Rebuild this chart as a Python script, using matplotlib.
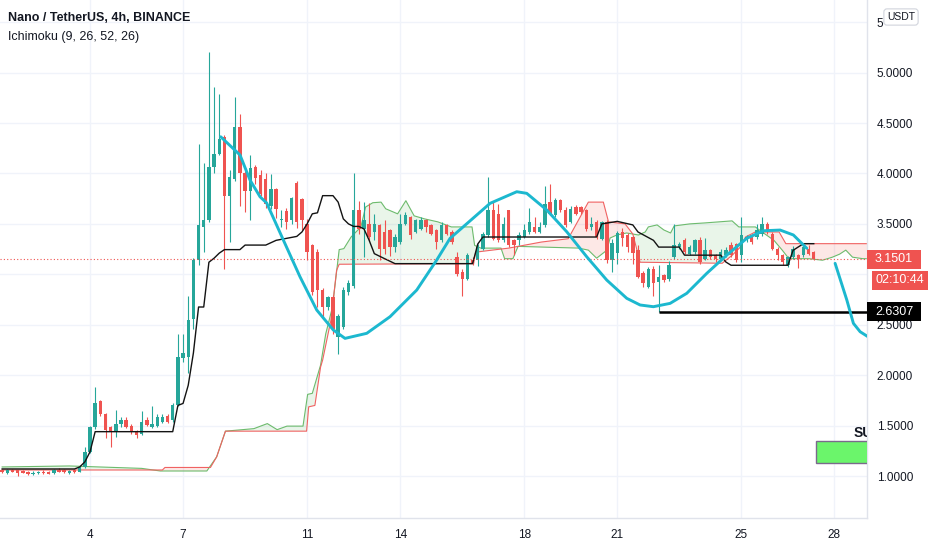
import numpy as np
import matplotlib
matplotlib.use('Agg')
import matplotlib.pyplot as plt
import matplotlib.transforms as mtransforms
from matplotlib.patches import Rectangle

plt.rcParams['font.family'] = ['Liberation Sans', 'DejaVu Sans']

TITLE = "Nano / TetherUS, 4h, BINANCE"
SUBTITLE = "Ichimoku (9, 26, 52, 26)"

# 4h bars, (open, high, low, close); index 0 = first bar on screen
ohlc = [
    (1.06, 1.065, 1.03, 1.04), (1.03, 1.07, 1.02, 1.06), (1.06, 1.065, 1.04, 1.045),
    (1.055, 1.06, 1.00, 1.03), (1.05, 1.06, 1.03, 1.035), (1.04, 1.05, 1.015, 1.02),
    (1.02, 1.05, 1.01, 1.035), (1.03, 1.05, 1.02, 1.04), (1.045, 1.055, 1.02, 1.03),
    (1.04, 1.05, 1.02, 1.025), (1.03, 1.07, 1.02, 1.06), (1.06, 1.075, 1.04, 1.045),
    (1.055, 1.065, 1.03, 1.04), (1.03, 1.06, 1.02, 1.05), (1.055, 1.065, 1.035, 1.045),
    (1.045, 1.10, 1.04, 1.09), (1.09, 1.29, 1.08, 1.24), (1.24, 1.50, 1.23, 1.49),
    (1.49, 1.88, 1.47, 1.72), (1.74, 1.75, 1.60, 1.62), (1.62, 1.63, 1.38, 1.46),
    (1.49, 1.50, 1.29, 1.44), (1.44, 1.65, 1.39, 1.52), (1.52, 1.59, 1.49, 1.555),
    (1.555, 1.59, 1.48, 1.49), (1.50, 1.52, 1.42, 1.44), (1.44, 1.46, 1.38, 1.41),
    (1.42, 1.64, 1.41, 1.54), (1.555, 1.59, 1.50, 1.505), (1.49, 1.69, 1.48, 1.52),
    (1.50, 1.62, 1.49, 1.587), (1.54, 1.62, 1.53, 1.587), (1.60, 1.62, 1.53, 1.54),
    (1.555, 1.72, 1.54, 1.703), (1.703, 2.41, 1.69, 2.18), (2.17, 2.41, 2.13, 2.22),
    (2.18, 2.79, 2.02, 2.545), (2.56, 3.16, 2.46, 3.14), (3.14, 4.29, 3.09, 3.485),
    (3.47, 4.10, 3.22, 3.535), (3.535, 5.20, 3.52, 4.06), (4.06, 4.855, 4.00, 4.195),
    (4.195, 4.79, 4.18, 4.34), (4.36, 4.38, 3.056, 3.78), (3.78, 4.03, 3.32, 3.963),
    (3.95, 4.755, 3.93, 4.46), (4.46, 4.59, 3.68, 4.00), (4.00, 4.02, 3.617, 3.83),
    (3.83, 4.18, 3.535, 4.05), (4.06, 4.08, 3.90, 3.96), (3.98, 4.03, 3.78, 3.80),
    (3.95, 4.00, 3.66, 3.70), (3.68, 3.99, 3.65, 3.85), (3.85, 3.86, 3.56, 3.65),
    (3.54, 3.64, 3.47, 3.55), (3.63, 3.66, 3.45, 3.52), (3.535, 3.77, 3.50, 3.76),
    (3.91, 3.93, 3.46, 3.52), (3.75, 3.76, 3.44, 3.535), (3.50, 3.55, 3.145, 3.22),
    (3.29, 3.30, 2.80, 2.825), (3.22, 3.25, 2.676, 2.84), (2.84, 2.86, 2.58, 2.676),
    (2.676, 2.79, 2.65, 2.775), (2.775, 2.80, 2.41, 2.46), (2.38, 2.61, 2.215, 2.59),
    (2.48, 2.87, 2.46, 2.84), (2.825, 2.94, 2.80, 2.91), (2.88, 4.00, 2.86, 3.64),
    (3.64, 3.73, 3.40, 3.45), (3.45, 3.72, 3.17, 3.535), (3.50, 3.71, 3.33, 3.37),
    (3.42, 3.60, 3.34, 3.50), (3.485, 3.50, 3.14, 3.255), (3.42, 3.535, 3.20, 3.255),
    (3.435, 3.45, 3.18, 3.27), (3.27, 3.40, 3.22, 3.37), (3.32, 3.60, 3.30, 3.50),
    (3.50, 3.62, 3.49, 3.585), (3.567, 3.58, 3.35, 3.386), (3.42, 3.55, 3.41, 3.535),
    (3.45, 3.57, 3.44, 3.535), (3.535, 3.55, 3.42, 3.47), (3.485, 3.50, 3.39, 3.40),
    (3.435, 3.45, 3.25, 3.32), (3.337, 3.52, 3.32, 3.485), (3.485, 3.50, 3.39, 3.40),
    (3.42, 3.44, 3.30, 3.32), (3.17, 3.22, 2.98, 3.007), (3.02, 3.05, 2.79, 2.957),
    (2.957, 3.21, 2.94, 3.188), (3.14, 3.17, 3.09, 3.106), (3.14, 3.30, 3.08, 3.27),
    (3.255, 3.42, 3.24, 3.396), (3.386, 3.963, 3.37, 3.634), (3.634, 3.73, 3.34, 3.353),
    (3.60, 3.70, 3.32, 3.337), (3.337, 3.57, 3.32, 3.50), (3.634, 3.634, 3.27, 3.287),
    (3.337, 3.35, 3.19, 3.287), (3.337, 3.42, 3.29, 3.386), (3.37, 3.50, 3.36, 3.435),
    (3.42, 3.66, 3.40, 3.52), (3.47, 3.57, 3.41, 3.42), (3.42, 3.52, 3.41, 3.47),
    (3.485, 3.88, 3.47, 3.70), (3.716, 3.898, 3.59, 3.60), (3.584, 3.76, 3.57, 3.733),
    (3.733, 3.75, 3.62, 3.634), (3.634, 3.67, 3.47, 3.485), (3.52, 3.68, 3.51, 3.65),
    (3.667, 3.69, 3.59, 3.60), (3.667, 3.68, 3.60, 3.617), (3.634, 3.65, 3.43, 3.45),
    (3.47, 3.57, 3.44, 3.50), (3.52, 3.54, 3.35, 3.37), (3.353, 3.53, 3.34, 3.52),
    (3.52, 3.54, 3.11, 3.14), (3.14, 3.35, 3.02, 3.31), (3.21, 3.43, 3.10, 3.41),
    (3.42, 3.46, 3.28, 3.357), (3.39, 3.41, 3.22, 3.27), (3.37, 3.38, 3.10, 3.21),
    (3.24, 3.29, 2.96, 2.976), (3.01, 3.03, 2.87, 2.91), (2.87, 3.07, 2.86, 3.056),
    (3.056, 3.08, 2.79, 2.91), (2.924, 3.09, 2.6307, 2.973), (2.99, 3.00, 2.92, 2.94),
    (2.957, 3.13, 2.93, 3.089), (3.17, 3.50, 3.15, 3.287), (3.27, 3.32, 3.25, 3.304),
    (3.337, 3.36, 3.20, 3.22), (3.205, 3.29, 3.19, 3.27), (3.22, 3.35, 3.20, 3.337),
    (3.337, 3.37, 3.10, 3.122), (3.155, 3.357, 3.14, 3.238), (3.238, 3.25, 3.15, 3.17),
    (3.188, 3.20, 3.125, 3.155), (3.155, 3.25, 3.14, 3.22), (3.188, 3.27, 3.17, 3.238),
    (3.287, 3.32, 3.17, 3.188), (3.304, 3.31, 3.12, 3.14), (3.188, 3.567, 3.125, 3.386),
    (3.337, 3.39, 3.32, 3.37), (3.386, 3.40, 3.30, 3.32), (3.37, 3.50, 3.35, 3.435),
    (3.40, 3.567, 3.38, 3.50), (3.50, 3.52, 3.40, 3.42), (3.40, 3.42, 3.24, 3.255),
    (3.255, 3.27, 3.14, 3.188), (3.188, 3.20, 3.09, 3.122), (3.089, 3.18, 3.075, 3.17),
    (3.17, 3.28, 3.15, 3.255), (3.188, 3.20, 3.06, 3.155), (3.188, 3.29, 3.17, 3.27),
    (3.255, 3.29, 3.19, 3.205), (3.22, 3.23, 3.14, 3.1501),
]

DAY_TICKS = [17, 35, 59, 77, 101, 119, 143, 161]
DAY_LABELS = ['4', '7', '11', '14', '18', '21', '25', '28']
PRICE_TICKS = [1.0, 1.5, 2.0, 2.5, 3.0, 3.5, 4.0, 4.5, 5.0, 5.5]
HIDDEN_TICKS = [3.0]   # sits under the countdown label
CUT_TICKS = {5.5: '5'}  # only the first digit shows beside the USDT badge

# black ichimoku line (bar index, price)
base_i = [0, 14, 15, 16, 17, 18, 33, 34, 35, 36, 37, 38, 39, 40, 41, 42, 43, 46, 47, 51,
          53, 57, 58, 59, 60, 61, 62, 64, 65, 66, 67, 68, 69, 70, 71, 72, 74, 76, 91,
          91.5, 92, 93, 115, 116, 119, 122, 123, 126, 127, 131, 132, 139, 140, 141, 152,
          153, 155, 157]
base_p = [1.07, 1.07, 1.09, 1.14, 1.24, 1.44, 1.44, 1.70, 1.72, 1.90, 2.22, 2.676, 2.676,
          3.12, 3.16, 3.21, 3.245, 3.245, 3.29, 3.29, 3.337, 3.376, 3.42, 3.50, 3.60, 3.61,
          3.78, 3.78, 3.716, 3.55, 3.50, 3.475, 3.475, 3.45, 3.337, 3.205, 3.155, 3.106,
          3.106, 3.20, 3.30, 3.37, 3.37, 3.50, 3.525, 3.49, 3.42, 3.337, 3.27, 3.27, 3.19,
          3.19, 3.122, 3.09, 3.09, 3.238, 3.304, 3.304]

# leading span A (green) and span B (red)
spanA_i = [0, 13, 27, 30.6, 39.6, 41.5, 43.2, 48.7, 51.3, 53.2, 55.1, 58.2, 59.1, 60,
           61.6, 62.6, 63.9, 65.2, 66.1, 67.5, 69.4, 70.3, 71.7, 73.3, 74.2, 76.5, 78.1,
           79.7, 81.7, 84.3, 86.9, 90.9, 91.4, 92.6, 96.5, 97.2, 98.8, 99.8, 111.5, 113.4,
           115, 117, 117.6, 118.9, 120.8, 123.1, 124.4, 125, 126.7, 128, 129.3, 130, 133,
           136, 141.2, 142.5, 145.7, 147, 149.3, 150.9, 152.2, 156.1, 158.7, 160.6, 162,
           163.2, 164.5, 166.5, 168]
spanA_p = [1.09, 1.10, 1.076, 1.05, 1.05, 1.19, 1.445, 1.47, 1.52, 1.46, 1.495, 1.495,
           1.81, 1.82, 2.10, 2.41, 2.676, 3.245, 3.255, 3.37, 3.47, 3.667, 3.71, 3.716,
           3.65, 3.60, 3.73, 3.58, 3.55, 3.52, 3.47, 3.47, 3.287, 3.26, 3.26, 3.155, 3.155,
           3.277, 3.26, 3.24, 3.16, 3.24, 3.36, 3.39, 3.41, 3.39, 3.42, 3.47, 3.49, 3.44,
           3.41, 3.48, 3.50, 3.51, 3.53, 3.47, 3.47, 3.42, 3.337, 3.24, 3.155, 3.155, 3.14,
           3.17, 3.20, 3.24, 3.17, 3.155, 3.155]
spanB_i = [0, 31, 31.5, 40.3, 41.5, 43.2, 58.9, 59.3, 60.5, 61.6, 62, 63.6, 64.7, 65.2,
           91.2, 91.6, 98, 104.3, 109.5, 113.4, 116.3, 117.3, 120.5, 122, 123.4, 139.3,
           141.2, 142.8, 143.8, 145.7, 150.3, 151.6, 168]
spanB_p = [1.06, 1.06, 1.085, 1.085, 1.19, 1.445, 1.445, 1.686, 1.70, 2.08, 2.15, 2.545,
           3.04, 3.10, 3.106, 3.22, 3.26, 3.32, 3.353, 3.716, 3.716, 3.52, 3.50, 3.40,
           3.12, 3.11, 3.188, 3.27, 3.37, 3.42, 3.42, 3.304, 3.304]

# hand drawn cyan curve, two pieces
arc1_i = [42.28, 46.02, 47.95, 49.89, 51.18, 54.40, 57.62, 60.86, 64.07, 66.33, 70.53,
          75.04, 80.20, 84.07, 86.65, 89.22, 94.39, 99.55, 101.48, 105.35, 109.22, 113.09,
          116.96, 120.83, 123.41, 125.98, 129.21, 132.44, 136.31, 140.18, 144.05, 147.26,
          150.49, 153.06, 155.65]
arc1_p = [4.364, 4.183, 3.935, 3.769, 3.707, 3.340, 2.976, 2.646, 2.448, 2.365, 2.415,
          2.580, 2.844, 3.142, 3.357, 3.472, 3.704, 3.819, 3.803, 3.638, 3.422, 3.174,
          2.943, 2.762, 2.696, 2.679, 2.712, 2.812, 3.010, 3.191, 3.357, 3.432, 3.439,
          3.390, 3.258]
arc2_i = [161.13, 163.4, 164.67, 165.97, 167.5]
arc2_p = [3.109, 2.745, 2.514, 2.431, 2.381]

LAST_PRICE = 3.1501
COUNTDOWN = '02:10:44'
SUPPORT_PRICE = 2.6307
SUPPORT_FROM = 127
ZONE_LEFT = 157.4
ZONE_LOW, ZONE_HIGH = 1.132, 1.35
ZONE_TEXT = 'SU'  # rest of the word is cut off by the price scale

GREEN = '#26a69a'
RED = '#ef5350'
GRID = '#f0f3fa'

fig = plt.figure(figsize=(9.32, 5.5), dpi=100)
ax = fig.add_axes([0, 31.7 / 550, 867 / 932, 518.3 / 550])
ax.set_xlim(-0.41, 167.3)
ax.set_ylim(0.581, 5.72)

# grid
for d in DAY_TICKS:
    ax.axvline(d, color=GRID, lw=1, zorder=0)
for p in PRICE_TICKS:
    ax.axhline(p, color=GRID, lw=1, zorder=0)

# cloud
grid = np.linspace(0, 168, 2000)
a = np.interp(grid, spanA_i, spanA_p)
b = np.interp(grid, spanB_i, spanB_p)
ax.fill_between(grid, a, b, where=a >= b, interpolate=True, color='#4caf50',
                alpha=0.12, lw=0, zorder=1)
ax.fill_between(grid, a, b, where=a < b, interpolate=True, color='#f44336',
                alpha=0.12, lw=0, zorder=1)
ax.plot(spanA_i, spanA_p, color='#6dbb6d', lw=0.8, zorder=2)
ax.plot(spanB_i, spanB_p, color='#f06262', lw=0.8, zorder=2)

# candles
o, h, l, c = map(np.array, zip(*ohlc))
idx = np.arange(len(ohlc))
cols = np.where(c >= o, GREEN, RED)
ax.vlines(idx, l, h, colors=cols, lw=0.8, zorder=3)
ax.bar(idx, np.maximum(np.abs(c - o), 0.01), bottom=np.minimum(o, c), width=0.66,
       color=cols, lw=0, zorder=3)

ax.plot(base_i, base_p, color='#131313', lw=1.0, zorder=4)

# last price line and support line
ax.axhline(LAST_PRICE, color=RED, lw=0.8, ls=(0, (1, 2)), zorder=4)
ax.plot([SUPPORT_FROM, 167.3], [SUPPORT_PRICE, SUPPORT_PRICE], color='black', lw=1.8,
        zorder=5, solid_capstyle='butt')

ax.plot(arc1_i, arc1_p, color='#1cb8cf', lw=2.1, zorder=6, solid_capstyle='round')
ax.plot(arc2_i, arc2_p, color='#1cb8cf', lw=2.1, zorder=6, solid_capstyle='round')

# support zone
ax.add_patch(Rectangle((ZONE_LEFT, ZONE_LOW), 20, ZONE_HIGH - ZONE_LOW, fc='#6bf56b',
                       ec='#7a6a8c', lw=1, zorder=6))
ax.text(164.7, 1.39, ZONE_TEXT, fontsize=10, fontweight='bold', color='#131722',
        ha='left', va='baseline', zorder=7, clip_on=True)

# axes styling
for s in ['left', 'top']:
    ax.spines[s].set_visible(False)
for s in ['right', 'bottom']:
    ax.spines[s].set_color('#e0e3eb')
    ax.spines[s].set_linewidth(1)
ax.yaxis.tick_right()
ax.set_yticks(PRICE_TICKS)
ylabels = []
for p in PRICE_TICKS:
    if p in HIDDEN_TICKS:
        ylabels.append('')
    else:
        ylabels.append(CUT_TICKS.get(p, f'{p:.4f}'))
ax.set_yticklabels(ylabels)
ax.set_xticks(DAY_TICKS)
ax.set_xticklabels(DAY_LABELS)
ax.tick_params(axis='y', length=0, pad=7, labelsize=8.5, labelcolor='#131722')
ax.tick_params(axis='x', length=0, pad=8, labelsize=8.5, labelcolor='#131722')

# price scale labels
trans = mtransforms.blended_transform_factory(ax.transAxes, ax.transData)
unit = 19 / 100.85
w = 54 / 867


def scale_label(y, text, fc, x0=1.0, width=w):
    ax.add_patch(Rectangle((x0, y - unit / 2), width, unit, transform=trans, fc=fc,
                           ec='none', clip_on=False, zorder=10))
    ax.text(x0 + width / 2, y, text, transform=trans, ha='center', va='center',
            color='white', fontsize=9, clip_on=False, zorder=11)


scale_label(LAST_PRICE, f'{LAST_PRICE:.4f}', RED)
scale_label(LAST_PRICE - 0.207, COUNTDOWN, RED, x0=1 + 4.7 / 867, width=56.6 / 867)
scale_label(SUPPORT_PRICE, f'{SUPPORT_PRICE:.4f}', '#000000')

fig.text(901 / 932, 1 - 17 / 550, 'USDT', fontsize=7.5, color='#131722', ha='center',
         va='center', zorder=12,
         bbox=dict(boxstyle='round,pad=0.3,rounding_size=0.3', fc='white',
                   ec='#d1d4dc', lw=0.8))

fig.text(8 / 932, 1 - 18 / 550, TITLE, fontsize=9, fontweight='bold', color='#131722',
         va='center', ha='left')
fig.text(8 / 932, 1 - 37 / 550, SUBTITLE, fontsize=9, color='#131722', va='center',
         ha='left')

fig.savefig('out.png', dpi=100, facecolor='white')
